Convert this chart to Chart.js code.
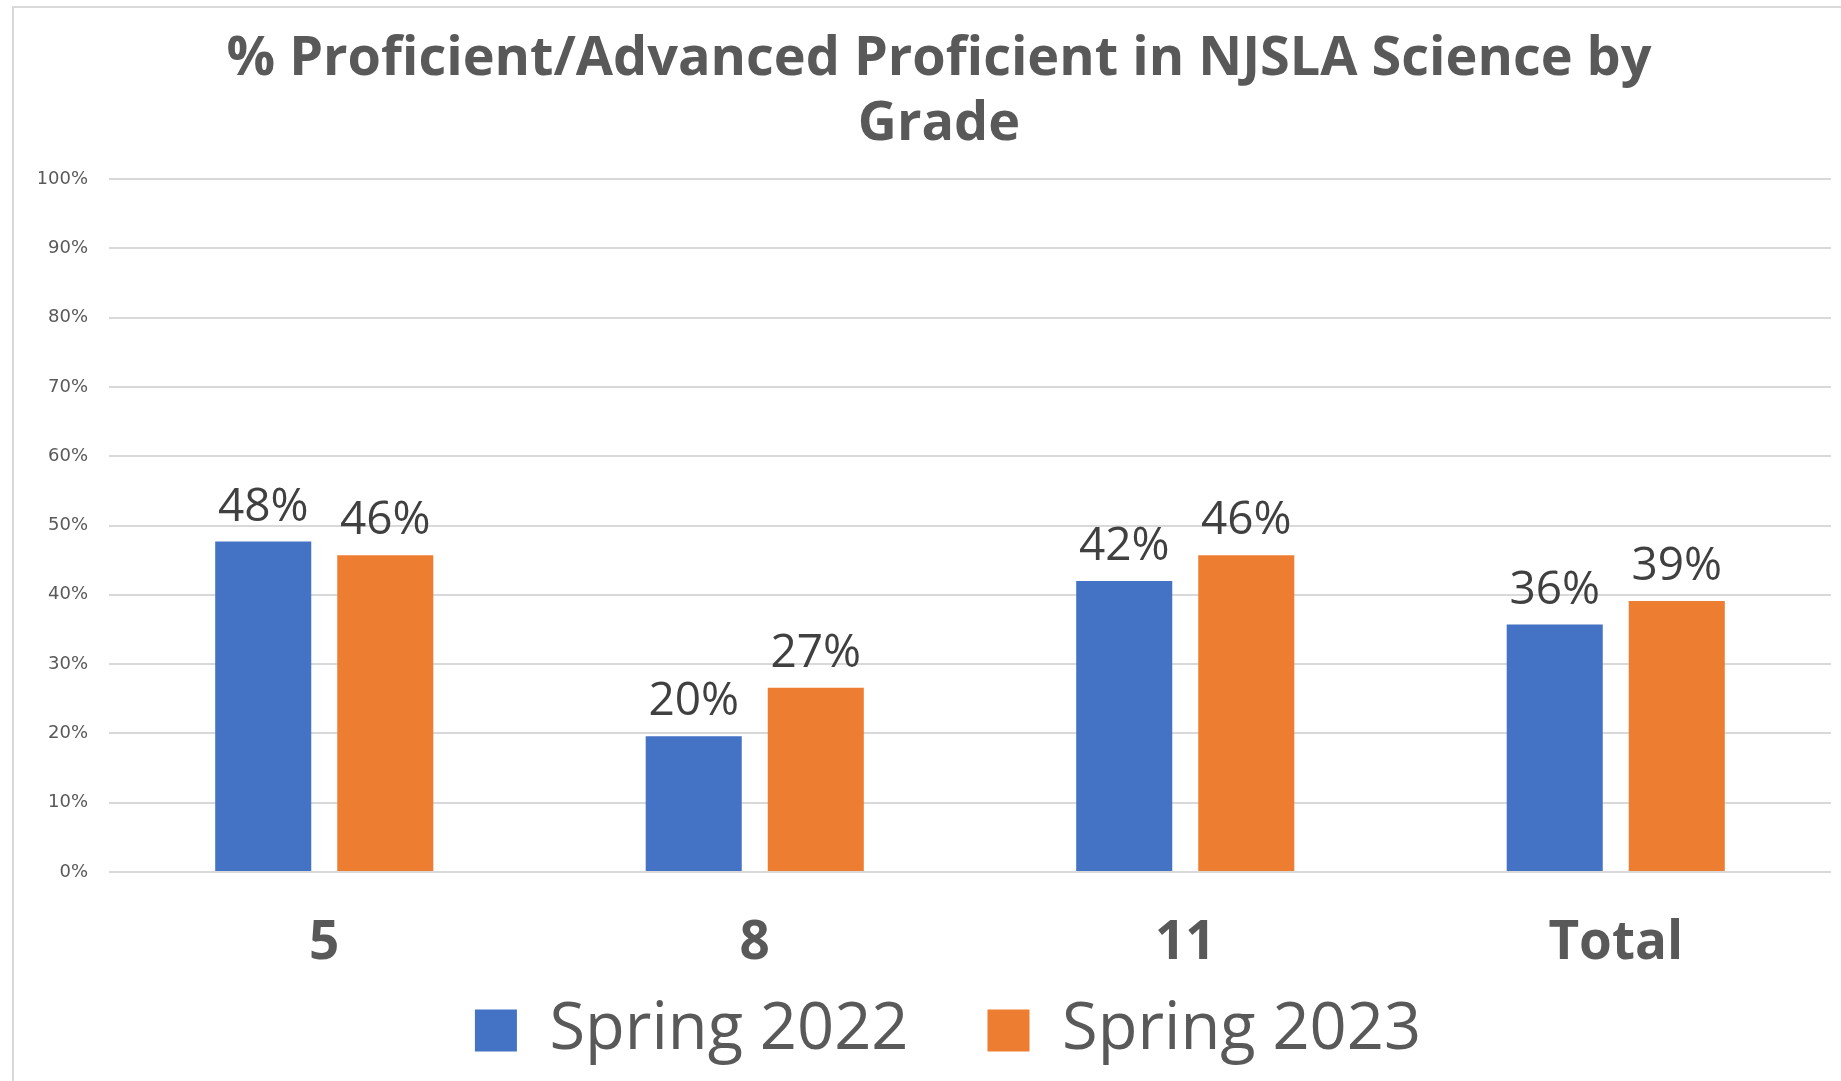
<!DOCTYPE html>
<html>
<head>
<meta charset="utf-8">
<script src="https://cdn.jsdelivr.net/npm/chart.js@4/dist/chart.umd.min.js"></script>
<style>
  html, body { margin: 0; padding: 0; background: #fff; }
  #frame {
    position: absolute; left: 12px; top: 6px; width: 1829px; height: 1075px;
    border-left: 2px solid #d9d9d9; border-top: 2px solid #d9d9d9;
  }
  #wrap { position: absolute; left: 0; top: 0; width: 1841px; height: 1081px; }
</style>
</head>
<body>
<div id="frame"></div>
<div id="wrap"><canvas id="chart" width="1841" height="1081"></canvas></div>
<script>
// datos
const grades = ['5', '8', '11', 'Total'];
const spring2022 = [47.7, 19.6, 42.0, 35.7];
const spring2023 = [45.7, 26.6, 45.7, 39.1];
const yTicks = [0, 10, 20, 30, 40, 50, 60, 70, 80, 90, 100];
const titleLines = ['% Proficient/Advanced Proficient in NJSLA Science by', 'Grade'];

// título en dos líneas, centrado como en el original
const titlePlugin = {
    id: 'titlePlugin',
    afterDraw(chart) {
        const ctx = chart.ctx;
        ctx.save();
        ctx.font = 'bold 54px "Open Sans"';
        ctx.fillStyle = '#595959';
        ctx.textAlign = 'center';
        ctx.textBaseline = 'alphabetic';
        titleLines.forEach((line, i) => ctx.fillText(line, 939, 75 + i * 64.5));
        ctx.restore();
    }
};

// etiquetas encima de cada barra
const barLabels = {
    id: 'barLabels',
    afterDatasetsDraw(chart) {
        const ctx = chart.ctx;
        ctx.save();
        ctx.font = '46px "Open Sans"';
        ctx.fillStyle = '#404040';
        ctx.textAlign = 'center';
        ctx.textBaseline = 'middle';
        chart.data.datasets.forEach((ds, i) => {
            chart.getDatasetMeta(i).data.forEach((bar, j) => {
                ctx.fillText(Math.round(ds.data[j]) + '%', bar.x, bar.y - 34);
            });
        });
        ctx.restore();
    }
};

// la leyenda del original está algo desplazada a la derecha
const legendShift = {
    id: 'legendShift',
    afterUpdate(chart) {
        chart.legend.left += 13;
        chart.legend.right += 13;
    }
};

const ctx = document.getElementById('chart').getContext('2d');
new Chart(ctx, {
    type: 'bar',
    data: {
        labels: grades,
        datasets: [
            { label: 'Spring 2022', data: spring2022, backgroundColor: '#4472c4' },
            { label: 'Spring 2023', data: spring2023, backgroundColor: '#ed7d31' }
        ]
    },
    options: {
        responsive: false,
        animation: false,
        devicePixelRatio: 1,
        categoryPercentage: 0.567,
        barPercentage: 0.787,
        layout: { padding: { left: 39, right: 10, top: 179, bottom: 8 } },
        plugins: {
            title: { display: false },
            legend: {
                position: 'bottom',
                labels: {
                    color: '#595959',
                    font: { family: '"Open Sans"', size: 65 },
                    boxWidth: 42,
                    boxHeight: 42,
                    padding: 79
                }
            },
            tooltip: { enabled: false }
        },
        scales: {
            x: {
                grid: { display: false, drawTicks: false },
                border: { display: false },
                ticks: {
                    color: '#595959',
                    font: { family: '"Open Sans"', size: 53, weight: 'bold', lineHeight: 1 },
                    // etiquetas bajo el eje, dentro del hueco que deja la leyenda
                    mirror: true,
                    padding: -98
                },
                afterFit: (axis) => { axis.height = 47; }
            },
            y: {
                min: 0,
                max: 100,
                afterBuildTicks: (axis) => { axis.ticks = yTicks.map(v => ({ value: v })); },
                afterFit: (axis) => { axis.width = 70; },
                grid: { color: '#d9d9d9', lineWidth: 2, drawTicks: false },
                border: { display: false },
                ticks: {
                    color: '#595959',
                    font: { family: '"DejaVu Sans"', size: 18 },
                    padding: 21,
                    callback: v => v + '%'
                }
            }
        }
    },
    plugins: [barLabels, titlePlugin, legendShift]
});
</script>
</body>
</html>
